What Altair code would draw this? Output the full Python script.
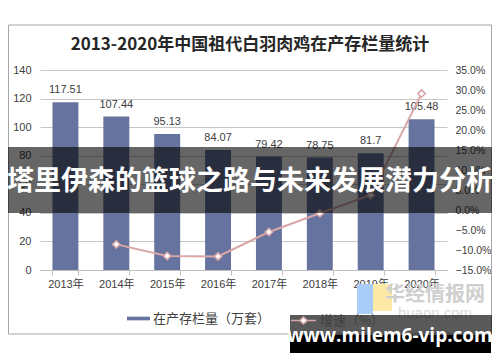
import altair as alt
import pandas as pd

years = ["2013年", "2014年", "2015年", "2016年", "2017年", "2018年", "2019年", "2020年"]
stock = [117.51, 107.44, 95.13, 84.07, 79.42, 78.75, 81.7, 105.48]
growth_pct = [None, -8.6, -11.5, -11.6, -5.5, -0.8, 3.7, 29.1]
left_ticks = [0, 20, 40, 60, 80, 100, 120, 140]
right_ticks = [-0.15, -0.10, -0.05, 0.0, 0.05, 0.10, 0.15, 0.20, 0.25, 0.30, 0.35]
bar_name = "在产存栏量（万套）"
line_name = "增速（%）"
title_text = "2013-2020年中国祖代白羽肉鸡在产存栏量统计"
banner_text = "塔里伊森的篮球之路与未来发展潜力分析"
url_text = "www.milem6-vip.com"
wm_cn = "华经情报网"
wm_en = "huaon.com"

FONT = "Liberation Sans, Arial, 'Noto Sans CJK SC', sans-serif"
CJK = "'Noto Sans CJK SC', sans-serif"
BAR_C = "#67739f"
LINE_C = "#d8a6a6"
TXT_C = "#404040"

df = pd.DataFrame({
    "year": years,
    "stock": stock,
    "growth": [g / 100 if g is not None else None for g in growth_pct],
    "s1": bar_name,
    "s2": line_name,
})
line_df = df.dropna(subset=["growth"])
one = pd.DataFrame({"k": [0]})

xenc = alt.X(
    "year:N", sort=years, title=None,
    scale=alt.Scale(paddingInner=0.49, paddingOuter=0.245),
    axis=alt.Axis(labelAngle=0, tickBand="extent", domainColor="#bfbfbf",
                  tickColor="#bfbfbf", tickSize=5, labelFontSize=11,
                  labelColor=TXT_C, labelPadding=3, grid=False, labelFont=FONT),
)

border = alt.Chart(one).mark_rect(filled=False, stroke="#a6a6a6", strokeWidth=1).encode(
    x=alt.value(-31.5), x2=alt.value(451.5), y=alt.value(-45), y2=alt.value(264))

title = alt.Chart(one).mark_text(text=title_text, font=CJK, fontSize=17, fontWeight="bold",
                                 color="#262626").encode(x=alt.value(210), y=alt.value(-25))

bars = alt.Chart(df).mark_bar().encode(
    x=xenc,
    y=alt.Y("stock:Q", title=None, scale=alt.Scale(domain=[0, 140], nice=False),
            axis=alt.Axis(values=left_ticks, domain=False, ticks=False, grid=True,
                          gridColor="#c6c6c6", labelColor=TXT_C, labelFontSize=11,
                          labelPadding=9, labelFont=FONT)),
    color=alt.Color("s1:N", scale=alt.Scale(range=[BAR_C]),
                    legend=alt.Legend(title=None, orient="none", legendX=87, legendY=237,
                                      symbolType="M-1,-0.16H1V0.16H-1Z", symbolSize=529,
                                      symbolStrokeWidth=0, labelFontSize=13, labelColor=TXT_C,
                                      labelFont=CJK, labelOffset=3)),
)

labels = alt.Chart(df).mark_text(dy=-12, fontSize=11, color=TXT_C, font=FONT).encode(
    x=alt.X("year:N", sort=years),
    y=alt.Y("stock:Q", scale=alt.Scale(domain=[0, 140], nice=False), axis=None),
    text=alt.Text("stock:Q"),
)

line = alt.Chart(line_df).mark_line(strokeWidth=2).encode(
    x=alt.X("year:N", sort=years),
    y=alt.Y("growth:Q", title=None, scale=alt.Scale(domain=[-0.15, 0.35], nice=False),
            axis=alt.Axis(orient="right", values=right_ticks, format=".1%", domain=False,
                          ticks=False, grid=False, labelColor=TXT_C, labelFontSize=10.5,
                          labelPadding=8, labelFont=FONT)),
    stroke=alt.Stroke("s2:N", scale=alt.Scale(range=[LINE_C]),
                      legend=alt.Legend(title=None, orient="none", legendX=250, legendY=237,
                                        symbolType="M-1,0H-0.3M-0.3,0L0,-0.28L0.3,0L0,0.28ZM0.3,0H1",
                                        symbolSize=625, symbolStrokeWidth=1.5,
                                        symbolFillColor="white", labelFontSize=13,
                                        labelColor=TXT_C, labelFont=CJK, labelOffset=3)),
)

points = alt.Chart(line_df).mark_point(shape="diamond", filled=True, fill="white",
                                       stroke=LINE_C, strokeWidth=1.5, size=55, opacity=1).encode(
    x=alt.X("year:N", sort=years),
    y=alt.Y("growth:Q", scale=alt.Scale(domain=[-0.15, 0.35], nice=False), axis=None),
)

wm_blue = alt.Chart(one).mark_rect(color="#a9cdf7").encode(
    x=alt.value(317), x2=alt.value(333), y=alt.value(214), y2=alt.value(244))
wm_yellow = alt.Chart(one).mark_rect(color="#fde9a6").encode(
    x=alt.value(333), x2=alt.value(352), y=alt.value(214), y2=alt.value(241))
wm_t1 = alt.Chart(one).mark_text(text=wm_cn, font=CJK, fontSize=20, fontWeight="bold",
                                 color="#cfcfcf").encode(x=alt.value(395), y=alt.value(225))
wm_t2 = alt.Chart(one).mark_text(text=wm_en, font=FONT, fontSize=15,
                                 color="#d9d9d9").encode(x=alt.value(395), y=alt.value(243))

banner = alt.Chart(one).mark_rect(color="black", opacity=0.6).encode(
    x=alt.value(-32), x2=alt.value(452), y=alt.value(77), y2=alt.value(143))
banner_t = alt.Chart(one).mark_text(text=banner_text, font=CJK, fontSize=27, fontWeight="bold",
                                    color="white").encode(x=alt.value(210), y=alt.value(112))

url_gray = alt.Chart(one).mark_rect(color="black", opacity=0.65).encode(
    x=alt.value(250), x2=alt.value(452), y=alt.value(245), y2=alt.value(265))
url_black = alt.Chart(one).mark_rect(color="black", opacity=1).encode(
    x=alt.value(250), x2=alt.value(451), y=alt.value(265), y2=alt.value(283))
url_t = alt.Chart(one).mark_text(text=url_text, font="'Open Sans', sans-serif", fontSize=19,
                                 fontWeight="bold", color="white").encode(
    x=alt.value(350), y=alt.value(266))

chart = alt.layer(
    border, title, bars, labels, line, points,
    wm_blue, wm_yellow, wm_t1, wm_t2,
    banner, banner_t, url_gray, url_black, url_t,
).resolve_scale(y="independent").properties(
    width=407, height=200,
    autosize=alt.AutoSizeParams(type="none"),
    padding={"left": 32, "top": 62, "right": 45, "bottom": 84},
    background="white",
).configure_view(stroke=None)

chart.save("out.html", embed_options={"renderer": "svg", "actions": False})
